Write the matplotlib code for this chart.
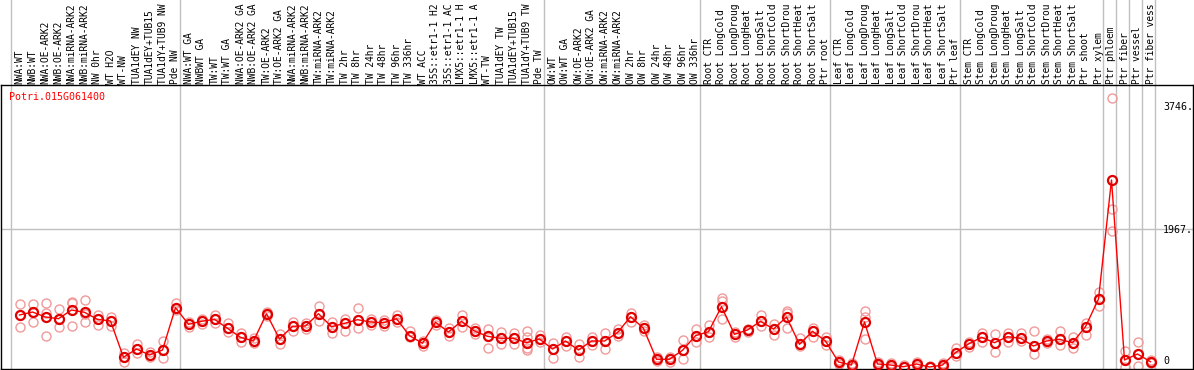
import matplotlib
matplotlib.use("Agg")
import matplotlib.pyplot as plt
from matplotlib import transforms
from matplotlib.lines import Line2D

gene_id = "Potri.015G061400"

# sample labels as displayed (the chart shows at most 14 characters)
samples = [
    "NWA:WT", "NWB:WT", "NWA:OE-ARK2", "NWB:OE-ARK2", "NWA:miRNA-ARK2", "NWB:miRNA-ARK2",
    "NW 0hr", "WT H2O", "WT-NW", "TUA1dEY NW", "TUA1dEY+TUB15", "TUA1dY+TUB9 NW", "Pde NW",
    "NWA:WT GA", "NWBWT GA", "TW:WT", "TW:WT GA", "NWA:OE-ARK2 GA", "NWB:OE-ARK2 GA",
    "TW:OE-ARK2", "TW:OE-ARK2 GA", "NWA:miRNA-ARK2", "NWB:miRNA-ARK2", "TW:miRNA-ARK2",
    "TW:miRNA-ARK2", "TW 2hr", "TW 8hr", "TW 24hr", "TW 48hr", "TW 96hr", "TW 336hr",
    "WT ACC", "35S::etr1-1 H2", "35S::etr1-1 AC", "LMX5::etr1-1 H", "LMX5::etr1-1 A",
    "WT-TW", "TUA1dEY TW", "TUA1dEY+TUB15", "TUA1dY+TUB9 TW", "Pde TW",
    "OW:WT", "OW:WT GA", "OW:OE-ARK2", "OW:OE-ARK2 GA", "OW:miRNA-ARK2", "OW:miRNA-ARK2",
    "OW 2hr", "OW 8hr", "OW 24hr", "OW 48hr", "OW 96hr", "OW 336hr",
    "Root CTR", "Root LongCold", "Root LongDroug", "Root LongHeat", "Root LongSalt",
    "Root ShortCold", "Root ShortDrou", "Root ShortHeat", "Root ShortSalt", "Ptr root",
    "Leaf CTR", "Leaf LongCold", "Leaf LongDroug", "Leaf LongHeat", "Leaf LongSalt",
    "Leaf ShortCold", "Leaf ShortDrou", "Leaf ShortHeat", "Leaf ShortSalt", "Ptr leaf",
    "Stem CTR", "Stem LongCold", "Stem LongDroug", "Stem LongHeat", "Stem LongSalt",
    "Stem ShortCold", "Stem ShortDrou", "Stem ShortHeat", "Stem ShortSalt", "Ptr shoot",
    "Ptr xylem", "Ptr phloem", "Ptr fiber", "Ptr vessel", "Ptr fiber vess",
]

means = [
    741, 783, 712, 688, 812, 779, 679, 655, 138, 256, 171, 242, 845,
    608, 651, 679, 551, 423, 370, 759, 399, 580, 584, 759, 574, 622, 674, 641, 631,
    688, 446, 338, 637, 499, 651, 513, 437, 409, 409, 346, 399,
    256, 370, 242, 370, 370, 489, 717, 551, 110, 110, 238, 446,
    503, 859, 466, 527, 651, 541, 712, 323, 509, 370,
    71, 28, 641, 43, 28, 4, 43, 0, 28, 204,
    328, 423, 346, 432, 409, 299, 370, 395, 346, 574, 969,
    2664, 100, 185, 75,
]

replicates = [
    [898, 741, 574], [898, 784, 637], [912, 774, 442], [822, 688, 570], [931, 908, 589],
    [955, 755, 637], [741, 680, 599], [717, 656, 589], [204, 138, 67], [323, 257, 195],
    [218, 171, 138], [371, 242, 124], [908, 845, 812],
    [646, 608, 574], [684, 651, 613], [741, 680, 631], [623, 551, 494], [480, 423, 361],
    [413, 370, 342], [788, 760, 727], [470, 399, 323], [641, 580, 513], [627, 584, 542],
    [869, 760, 660], [646, 574, 489], [680, 623, 517], [841, 674, 551], [680, 641, 599],
    [670, 631, 584], [745, 688, 641], [517, 446, 428], [375, 338, 304], [670, 637, 599],
    [560, 499, 442], [737, 651, 574], [551, 513, 470], [542, 437, 266], [503, 409, 323],
    [480, 409, 328], [517, 432, 266, 242], [456, 399, 352],
    [338, 257, 133], [423, 370, 304], [323, 242, 147], [428, 370, 314], [480, 370, 252],
    [537, 489, 442], [765, 717, 637], [599, 551, 513], [143, 110, 86], [138, 110, 76],
    [380, 238, 110], [542, 446, 361],
    [599, 503, 432], [979, 945, 680], [499, 466, 432], [542, 527, 494], [741, 651, 584],
    [613, 542, 456], [802, 774, 551], [418, 323, 299], [560, 509, 432], [423, 370, 309],
    [100, 71, 43], [57, 28, 0], [798, 717, 395], [71, 43, 14], [57, 28, 0],
    [28, 4, 0], [71, 43, 14], [14, 0, 0], [57, 28, 0], [266, 204, 157],
    [361, 328, 289], [489, 423, 361], [470, 346, 218], [489, 432, 361], [480, 409, 370],
    [513, 299, 185], [395, 370, 338], [513, 395, 314], [423, 346, 266], [631, 574, 456],
    [1064, 969, 869],
    [3829, 2247, 1938], [228, 100, 0], [352, 185, 14], [100, 75, 53],
]

group_starts = [0, 13, 41, 53, 63, 73, 84, 85, 86, 87, 88]
ytick_vals = [3746, 1967, 0]
ytick_text = ["3746.", "1967.", "0"]

W, H = 1194, 370
fig = plt.figure(figsize=(W / 100, H / 100), dpi=100)
fig.patch.set_facecolor("white")

ax = fig.add_axes([1 / W, 1 / H, 1192 / W, 284 / H])
ax.set_xlim((1 - 19.5) / 13, (1193 - 19.5) / 13)
ax.set_ylim(-28.5, 4017)
ax.set_xticks([])
ax.set_yticks([])
for s in ax.spines.values():
    s.set_color("black")
    s.set_linewidth(1.0)

mono = "DejaVu Sans Mono"
grey = "#c0c0c0"

# horizontal grid line
ax.axhline(ytick_vals[1], color=grey, lw=1.0, zorder=1)

# group separators through labels and plot
sep_tr = transforms.blended_transform_factory(ax.transData, fig.transFigure)
for g in group_starts:
    xs = g - 0.65
    ln = Line2D([xs, xs], [0, 1], transform=sep_tr, color=grey, lw=1.0, zorder=0.5)
    ln.set_clip_on(False)
    ax.add_line(ln)

# replicates
for i, reps in enumerate(replicates):
    ax.plot([i] * len(reps), reps, linestyle="none", marker="o", markersize=6.5,
            markerfacecolor="none", markeredgecolor="#f09a9a", markeredgewidth=1.0,
            zorder=2, clip_on=True)

# mean line and markers
xi = list(range(len(means)))
ax.plot(xi, means, color="red", lw=1.0, zorder=3)
ax.plot(xi, means, linestyle="none", marker="o", markersize=6.5,
        markerfacecolor="none", markeredgecolor="#e00000", markeredgewidth=1.6, zorder=4)

# sample labels (rotated) in the top strip
lab_tr = transforms.blended_transform_factory(ax.transData, fig.transFigure)
for i, name in enumerate(samples):
    ax.text(i, (H - 83.5) / H, name, transform=lab_tr, rotation=90, ha="center",
            va="bottom", fontsize=6.9, family=mono, color="black", clip_on=False)

# gene id
ax.text(9.5 / W, (H - 97) / H, gene_id, transform=fig.transFigure, ha="left",
        va="center", fontsize=7.2, family=mono, color="red")

# right-side value labels
offsets = [-3, -1.5, 6]
tick_tr = transforms.blended_transform_factory(fig.transFigure, ax.transData)
for v, t, off in zip(ytick_vals, ytick_text, offsets):
    tr = tick_tr + transforms.ScaledTranslation(0, off / 100, fig.dpi_scale_trans)
    ax.text(1163 / W, v, t, transform=tr, ha="left", va="center", fontsize=7.2,
            family=mono, color="black", clip_on=False)

fig.savefig("out.png", dpi=100)
